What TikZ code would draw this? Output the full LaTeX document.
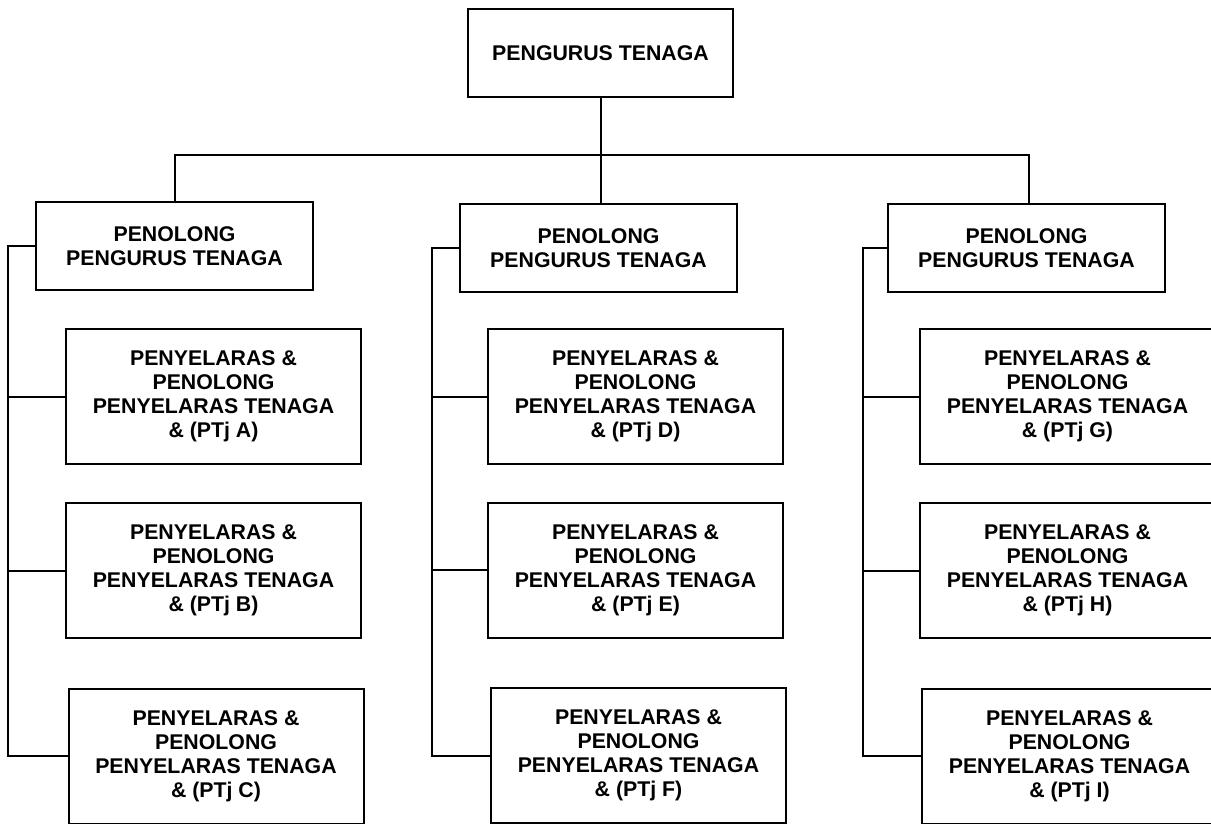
\documentclass[tikz,border=0pt]{standalone}
\usepackage{fontspec}
\setmainfont{Liberation Sans}
\usepackage{tikz}
\usetikzlibrary{calc}
\usetikzlibrary{positioning}

\begin{document}
\begin{tikzpicture}[x=1pt,y=-1pt,-,line width=2pt]
 	\tikzstyle{box}=[draw, rectangle, align=center, inner sep=0pt, font=\bfseries\fontsize{21.3}{24}\selectfont]
 	\tikzstyle{ketua}=[box, minimum width=265pt, minimum height=88pt]
 	\tikzstyle{penolong}=[box, minimum width=277pt, minimum height=88pt]
 	\tikzstyle{selaras}=[box, minimum width=295pt, minimum height=135pt]
	\useasboundingbox (0,0) rectangle (1211,824);

		\node[ketua] (PT) at (600.5,53) {PENGURUS TENAGA};
		\node[penolong] (P1) at (174.5,246) {PENOLONG\\PENGURUS TENAGA};
		\node[penolong] (P2) at (598.5,248) {PENOLONG\\PENGURUS TENAGA};
		\node[penolong] (P3) at (1026.5,248) {PENOLONG\\PENGURUS TENAGA};

		\node[selaras] (A) at (213.5,396.5) {PENYELARAS \&\\PENOLONG\\PENYELARAS TENAGA\\\& (PTj A)};
		\node[selaras] (B) at (213.5,570.5) {PENYELARAS \&\\PENOLONG\\PENYELARAS TENAGA\\\& (PTj B)};
		\node[selaras] (C) at (216,756) {PENYELARAS \&\\PENOLONG\\PENYELARAS TENAGA\\\& (PTj C)};
		\node[selaras] (D) at (635.5,396.5) {PENYELARAS \&\\PENOLONG\\PENYELARAS TENAGA\\\& (PTj D)};
		\node[selaras] (E) at (635.5,570) {PENYELARAS \&\\PENOLONG\\PENYELARAS TENAGA\\\& (PTj E)};
		\node[selaras] (F) at (638.5,755.5) {PENYELARAS \&\\PENOLONG\\PENYELARAS TENAGA\\\& (PTj F)};
		\node[selaras] (G) at (1067.5,396.5) {PENYELARAS \&\\PENOLONG\\PENYELARAS TENAGA\\\& (PTj G)};
		\node[selaras] (H) at (1067.5,570.5) {PENYELARAS \&\\PENOLONG\\PENYELARAS TENAGA\\\& (PTj H)};
		\node[selaras] (I) at (1069.5,756) {PENYELARAS \&\\PENOLONG\\PENYELARAS TENAGA\\\& (PTj I)};

		\coordinate (bus) at (600,155);
		\coordinate (busA) at (8,0);
		\coordinate (busB) at (432,0);
		\coordinate (busC) at (863,0);

		\draw (PT.south) -- (PT.south |- P2.north);
		\draw (P1.north) -- (P1.north |- bus) -- ($(P3.north |- bus)+(2.5,0)$) -- ($(P3.north)+(2.5,0)$);

			\foreach \p/\b/\k in {P1/busA/C, P2/busB/F, P3/busC/I}{
				\draw (\p.west) -- (\p.west -| \b) -- (\k.west -| \b) -- (\k.west);
				}
			\foreach \k/\b in {A/busA, B/busA, D/busB, E/busB, G/busC, H/busC}{
				\draw (\k.west) -- (\k.west -| \b);
				}
\end{tikzpicture}
\end{document}
